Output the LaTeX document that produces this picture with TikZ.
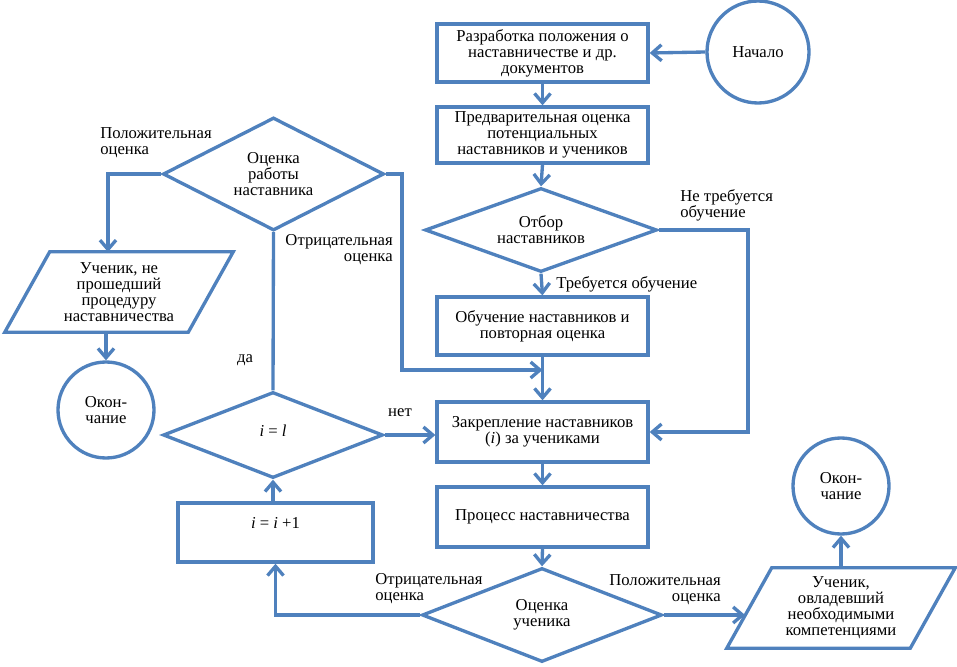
\documentclass[tikz,border=0pt]{standalone}
\usepackage{fontspec}
\setmainfont{Liberation Serif}
\usetikzlibrary{arrows.meta,shapes.geometric,calc}
\definecolor{fb}{RGB}{79,129,189}
\begin{document}
\begin{tikzpicture}[x=0.75pt,y=-0.75pt,
  every node/.style={font=\fontsize{12.5}{12}\selectfont, align=center},
  ln/.style={draw=fb, line width=2.5pt},
  arr/.style={draw=fb, line width=2.5pt, -{Straight Barb[length=7pt,width=12pt]}},
  box/.style={ln, rectangle, minimum width=158.25pt, inner sep=0pt},
  dia/.style={ln, diamond, shape aspect=2, inner sep=0pt},
  circ/.style={ln, circle, inner sep=0pt},
  para/.style={rectangle, inner sep=0pt, minimum width=171pt, minimum height=60pt},
  lbl/.style={inner sep=0pt}
]
\useasboundingbox (0,0) rectangle (957,667);

% right column
\node[circ, minimum size=76.5pt] (start) at (758,52) {Начало};
\node[box, minimum height=43.5pt] (b1) at (542.5,53) {Разработка положения о\\наставничестве и др.\\документов};
\node[box, minimum height=42pt] (b2) at (542.5,135) {Предварительная оценка\\потенциальных\\наставников и учеников};
\node[dia, minimum width=174pt, minimum height=63pt] (d1) at (541,230) {Отбор\\наставников};
\node[box, minimum height=43.5pt] (b3) at (542.5,326) {Обучение наставников и\\повторная оценка};
\node[box, minimum height=45pt] (b4) at (542.5,432) {Закрепление наставников\\(\textit{i}) за учениками};
\node[box, minimum height=45pt] (b5) at (542.5,517) {Процесс наставничества};
\node[dia, minimum width=180pt, minimum height=70.5pt] (d4) at (542,615) {Оценка\\ученика};

% right bottom
\node[para] (p2) at (841,608) {Ученик,\\овладевший\\необходимыми\\компетенциями};
\draw[ln] ($(p2.north west)+(45,0)$) -- (p2.north east) -- ($(p2.south east)-(45,0)$) -- (p2.south west) -- cycle;
\node[circ, minimum size=72pt] (e2) at (841,486) {Окон-\\чание};

% left column
\node[dia, minimum width=165.75pt, minimum height=84.75pt] (d2) at (273.5,174) {Оценка\\работы\\наставника};
\node[para] (p1) at (119,292) {Ученик, не\\прошедший\\процедуру\\наставничества};
\draw[ln] ($(p1.north west)+(45,0)$) -- (p1.north east) -- ($(p1.south east)-(45,0)$) -- (p1.south west) -- cycle;
\node[circ, minimum size=72pt] (e1) at (106,410) {Окон-\\чание};
\node[dia, minimum width=165pt, minimum height=64.5pt] (d3) at (273,435) {};
\node[lbl] (t3) at (273,431) {\textit{i} = \textit{l}};
\node[ln, rectangle, inner sep=0pt, minimum width=146.25pt, minimum height=44.25pt] (b6) at (275.5,532.5) {};
\node[lbl] (t6) at (275.5,523) {\textit{i} = \textit{i} +1};

% coordinates
\coordinate (c1) at (748,432);
\coordinate (c2) at (402,370);
\coordinate (c4) at (108,252);
\coordinate (c6) at (745,615);

% connectors
\draw[arr] (start.west) -- (b1.east);
\draw[arr] (b1.south) -- (b2.north);
\draw[arr] (b2.south) -- (d1.north);
\draw[arr] (d1.south) -- (b3.north);
\draw[arr] (d1.east) -| (c1) -- (b4.east);
\draw[arr] (b3.south) -- (b4.north);
\draw[arr] (b4.south) -- (b5.north);
\draw[arr] (b5.south) -- (d4.north);
\draw[arr] (d2.east) -| (c2) -- (b3.south |- c2);
\draw[arr] (d2.west) -| (c4);
\draw[arr] (p1.south -| e1.north) -- (e1.north);
\draw[ln] (d3.north) -- (d2.south);
\draw[arr] (d3.east) -- (b4.west |- d3.east);
\draw[arr] (b6.north -| d3.south) -- (d3.south);
\draw[arr] (d4.west) -| (b6.south);
\draw[arr] (d4.east) -- (c6);
\draw[arr] (p2.north -| e2.south) -- (e2.south);

% labels
\node[lbl, anchor=west, align=left] (l1) at (100,143) {Положительная\\оценка};
\node[lbl, anchor=east, align=right] (l2) at (393,250) {Отрицательная\\оценка};
\node[lbl] (l3) at (245,360) {да};
\node[lbl] (l4) at (400,413) {нет};
\node[lbl, anchor=west, align=left] (l5) at (680,205) {Не требуется\\обучение};
\node[lbl, anchor=west] (l6) at (556,284) {Требуется обучение};
\node[lbl, anchor=west, align=left] (l7) at (375,589) {Отрицательная\\оценка};
\node[lbl, anchor=east, align=right] (l8) at (721,590) {Положительная\\оценка};
\end{tikzpicture}
\end{document}
